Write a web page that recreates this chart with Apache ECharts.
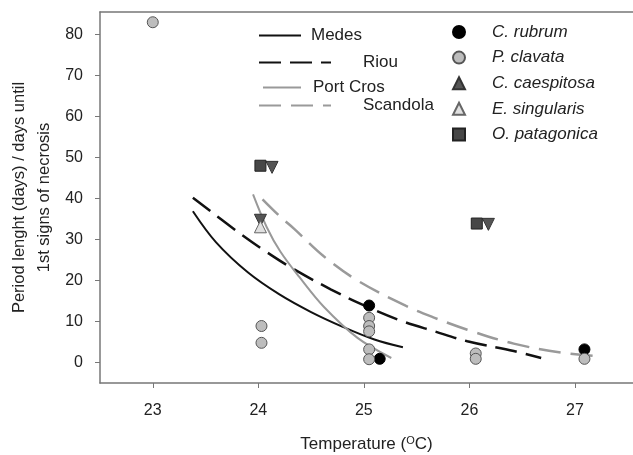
<!DOCTYPE html>
<html>
<head>
<meta charset="utf-8">
<script src="https://cdn.jsdelivr.net/npm/echarts@6/dist/echarts.min.js"></script>
<style>html,body{margin:0;padding:0;background:#fff}#c{width:633px;height:455px}</style>
</head>
<body>
<div id="c"></div>
<script>
const xTicks = [23, 24, 25, 26, 27];
const yTicks = [0, 10, 20, 30, 40, 50, 60, 70, 80];

const medes = [[23.38,36.9],[23.6,29.3],[23.9,22.0],[24.2,16.6],[24.5,12.3],[24.8,8.7],[25.1,5.6],[25.37,3.7]];
const riou = [[23.38,40.2],[23.82,31.6],[24.07,27.1],[24.34,22.7],[24.69,17.8],[24.97,14.3],[25.35,10.2],[25.67,7.6],[25.98,5.2],[26.42,2.8],[26.68,1.1]];
const portCros = [[23.95,41.0],[24.08,33.0],[24.21,27.0],[24.39,20.8],[24.62,13.6],[24.94,6.0],[25.26,1.1]];
const scandola = [[24.04,39.8],[24.21,35.5],[24.34,32.6],[24.62,25.9],[24.94,20.0],[25.40,13.8],[25.67,10.9],[25.98,8.0],[26.42,4.6],[26.87,2.4],[27.23,1.5]];

const cRubrum = [[25.05,13.9],[25.15,0.9],[27.09,3.2]];
const pClavata = [[23.0,83],[24.03,8.9],[24.03,4.8],[25.05,10.9],[25.05,8.9],[25.05,7.6],[25.05,3.2],[25.05,0.8],[26.06,2.2],[26.06,0.9],[27.09,0.9]];
const cCaespitosa = [[24.13,47.6],[24.02,34.7],[26.18,33.7]];
const eSingularis = [[24.02,33.1]];
const oPatagonica = [[24.02,48],[26.07,33.9]];

const FONT = 'Liberation Sans, Arial, sans-serif';
const chart = echarts.init(document.getElementById('c'));

function lineSeries(name, data, color, type, width) {
  return { name, type: 'line', data, smooth: 0.35, symbol: 'none', z: 2,
    lineStyle: { color, width, type }, itemStyle: { color } };
}
function scat(name, data, symbol, fill, stroke, size, rot) {
  return { name, type: 'scatter', data, symbol, symbolSize: size, symbolRotate: rot || 0, z: 5,
    itemStyle: { color: fill, borderColor: stroke, borderWidth: 1, opacity: 1 } };
}
const lineLegend = (name, left, top, w, pad) => ({
  data: [name], left, top, padding: 0, itemWidth: w, itemHeight: 14, selectedMode: false,
  itemStyle: { color: 'rgba(0,0,0,0)', borderWidth: 0, opacity: 0 },
  textStyle: { fontFamily: FONT, fontSize: 17, color: '#222', padding: [0, 0, 0, pad] }
});

chart.setOption({
  animation: false,
  grid: { left: 100, right: 0, top: 12, bottom: 72, outerBoundsMode: 'none', containLabel: false },
  legend: [
    lineLegend('Medes', 258, 27, 42, 5),
    lineLegend('Riou', 258, 54, 72, 27),
    lineLegend('Port Cros', 262, 79, 38, 7),
    lineLegend('Scandola', 258, 97, 72, 27),
    {
      data: ['C. rubrum', 'P. clavata', 'C. caespitosa', 'E. singularis', 'O. patagonica'],
      orient: 'vertical', left: 452, top: 22, padding: 0, itemWidth: 12, itemHeight: 12, itemGap: 5.6,
      selectedMode: false,
      textStyle: { fontFamily: FONT, fontSize: 17, fontStyle: 'italic', color: '#222', lineHeight: 20, padding: [0, 0, 0, 22] }
    }
  ],
  xAxis: [{
    type: 'value', min: 22.5, max: 27.55,
    name: 'Temperature ({sup|O}C)', nameLocation: 'middle', nameGap: 52, nameMoveOverlap: false,
    nameTextStyle: { fontFamily: FONT, fontSize: 17, color: '#222',
      rich: { sup: { fontFamily: FONT, fontSize: 11, color: '#222', verticalAlign: 'top', padding: [0, 0, 8, 0] } } },
    splitLine: { show: false },
    axisLine: { show: true, onZero: false, lineStyle: { color: '#777', width: 1.5 } },
    axisTick: { show: true, length: 5, lineStyle: { color: '#777' }, customValues: xTicks },
    axisLabel: { customValues: xTicks, fontFamily: FONT, fontSize: 16, color: '#222', margin: 20 }
  }, {
    type: 'value', position: 'top', min: 22.5, max: 27.55,
    axisLine: { show: true, onZero: false, lineStyle: { color: '#777', width: 1.5 } },
    axisTick: { show: false }, axisLabel: { show: false }, splitLine: { show: false }
  }],
  yAxis: {
    type: 'value', min: -5, max: 85.5,
    name: 'Period lenght (days) / days until\n1st signs of necrosis',
    nameLocation: 'middle', nameGap: 43, nameMoveOverlap: false,
    nameTextStyle: { fontFamily: FONT, fontSize: 16.5, color: '#222', lineHeight: 25 },
    splitLine: { show: false },
    axisLine: { show: true, onZero: false, lineStyle: { color: '#777', width: 1.5 } },
    axisTick: { show: true, length: 5, lineStyle: { color: '#777' }, customValues: yTicks },
    axisLabel: { customValues: yTicks, fontFamily: FONT, fontSize: 16, color: '#222', margin: 17 }
  },
  series: [
    lineSeries('Medes', medes, '#111', 'solid', 2),
    lineSeries('Riou', riou, '#111', [22, 9], 2.5),
    lineSeries('Port Cros', portCros, '#999', 'solid', 2),
    lineSeries('Scandola', scandola, '#9a9a9a', [22, 10], 2.5),
    scat('C. rubrum', cRubrum, 'circle', '#000', '#000', 11),
    scat('P. clavata', pClavata, 'circle', '#bdbdbd', '#555', 11),
    scat('C. caespitosa', cCaespitosa, 'triangle', '#555', '#333', 12, 180),
    scat('E. singularis', eSingularis, 'triangle', '#e0e0e0', '#666', 12),
    scat('O. patagonica', oPatagonica, 'rect', '#474747', '#222', 11)
  ]
});
</script>
</body>
</html>
